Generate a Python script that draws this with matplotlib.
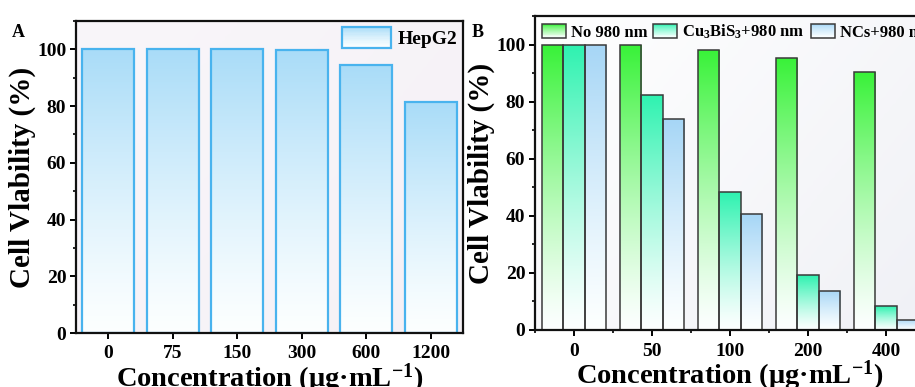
import numpy as np
import matplotlib
matplotlib.use("Agg")
import matplotlib.pyplot as plt
from matplotlib.colors import LinearSegmentedColormap, to_rgb
from matplotlib.patches import Rectangle, Patch
from matplotlib.legend_handler import HandlerBase
from matplotlib.ticker import MultipleLocator, FixedLocator

plt.rcParams['font.family'] = ['Liberation Serif', 'DejaVu Serif']
plt.rcParams['font.weight'] = 'bold'
plt.rcParams['mathtext.fontset'] = 'custom'
plt.rcParams['mathtext.rm'] = 'Liberation Serif:bold'
plt.rcParams['mathtext.bf'] = 'Liberation Serif:bold'
plt.rcParams['mathtext.it'] = 'Liberation Serif:bold'

# ---- data ----
a_labels = ["0", "75", "150", "300", "600", "1200"]
a_values = [100.0, 100.0, 100.0, 99.8, 94.4, 81.3]
a_series = "HepG2"

b_labels = ["0", "50", "100", "200", "400"]
b_no980 = [100.0, 100.0, 98.2, 95.4, 90.4]
b_cubis = [100.0, 82.4, 48.3, 19.2, 8.4]
b_ncs = [100.0, 73.9, 40.6, 13.8, 3.6]
b_series = ["No 980 nm", r"Cu$_{\mathbf{3}}$BiS$_{\mathbf{3}}$+980 nm", "NCs+980 nm"]

ylabel = "Cell Vlability (%)"
xlabel = r"Concentration (μg·mL$^{\mathbf{-1}}$)"

# ---- styles ----
c_blueA = "#a9dcf8"
e_blueA = "#49b3ee"
c_green = "#38f238"
c_cyan = "#2ef2b0"
c_blueB = "#a6d6f6"
e_dark = "#3a3a3a"


def make_cmap(color):
    c = np.array(to_rgb(color))
    t = np.linspace(0, 1, 256) ** 1.25
    cols = (1 - t[:, None]) * np.array([0.99, 1.0, 1.0]) + t[:, None] * c
    return LinearSegmentedColormap.from_list("g", cols)


def grad_bar(ax, x, h, w, color, edge, lw):
    rect = ax.bar(x, h, w, facecolor='none', edgecolor=edge, lw=lw, zorder=3)[0]
    grad = np.linspace(0, 1, 256).reshape(-1, 1)
    im = ax.imshow(grad, cmap=make_cmap(color), extent=[x - w / 2, x + w / 2, 0, h],
                   origin='lower', aspect='auto', zorder=2, interpolation='bilinear')
    im.set_clip_path(rect)


class GradHandler(HandlerBase):
    def __init__(self, color, edge, lw):
        super().__init__()
        self.cmap = make_cmap(color)
        self.edge = edge
        self.lw = lw

    def create_artists(self, legend, orig_handle, xdescent, ydescent, width, height, fontsize, trans):
        arts = []
        n = 16
        for i in range(n):
            r = Rectangle((-xdescent, -ydescent + i * height / n), width, height / n + 0.01,
                          fc=self.cmap((i + 0.5) / n), ec='none', transform=trans)
            arts.append(r)
        arts.append(Rectangle((-xdescent, -ydescent), width, height, fc='none',
                              ec=self.edge, lw=self.lw, transform=trans))
        return arts


def bg(ax, c0, c1):
    g = np.linspace(0, 1, 128)
    X, Y = np.meshgrid(g, g)
    t = 0.6 * X + 0.4 * (1 - Y)
    cm = LinearSegmentedColormap.from_list("bg", [c0, c1])
    ax.imshow(t, cmap=cm, extent=[0, 1, 0, 1], transform=ax.transAxes, aspect='auto',
              zorder=0, origin='lower', vmin=0, vmax=1)


fig = plt.figure(figsize=(9.15, 3.87), dpi=100)
W, H = 915, 387

# ---- panel A ----
axA = fig.add_axes([76 / W, (H - 333) / H, (463 - 76) / W, (333 - 21) / H])
bg(axA, "#f9f6fa", "#f5f1f6")
xa = np.arange(len(a_labels))
for x, v in zip(xa, a_values):
    grad_bar(axA, x, v, 0.8, c_blueA, e_blueA, 1.6)
axA.set_xlim(-0.5, len(a_labels) - 0.5)
axA.set_ylim(0, 110)
axA.set_xticks(xa)
axA.set_xticklabels(a_labels)
axA.set_yticks([0, 20, 40, 60, 80, 100])
axA.yaxis.set_minor_locator(MultipleLocator(10))
hA = Patch(label=a_series)
axA.legend([hA], [a_series], handler_map={hA: GradHandler(c_blueA, e_blueA, 1.6)},
           loc='upper right', frameon=False, handlelength=2.5, handleheight=1.3,
           borderaxespad=0.0, handletextpad=0.35, borderpad=0.3,
           prop={'weight': 'bold', 'size': 14})
fig.text(12 / W, 1 - 37 / H, "A", fontsize=13, fontweight='bold')

# ---- panel B ----
axB = fig.add_axes([535 / W, (H - 330) / H, 390 / W, (330 - 16) / H])
bg(axB, "#ffffff", "#f0f1f6")
xb = np.arange(len(b_labels))
bw = 0.27
for x, v in zip(xb, b_no980):
    grad_bar(axB, x - bw, v, bw, c_green, e_dark, 1.1)
for x, v in zip(xb, b_cubis):
    grad_bar(axB, x, v, bw, c_cyan, e_dark, 1.1)
for x, v in zip(xb, b_ncs):
    grad_bar(axB, x + bw, v, bw, c_blueB, e_dark, 1.1)
axB.set_xlim(-0.5, len(b_labels) - 0.5)
axB.set_ylim(0, 110)
axB.set_xticks(xb)
axB.set_xticklabels(b_labels)
axB.xaxis.set_minor_locator(FixedLocator(np.arange(-0.5, len(b_labels), 1.0)))
axB.set_yticks([0, 20, 40, 60, 80, 100])
axB.yaxis.set_minor_locator(MultipleLocator(10))
hb = [Patch(), Patch(), Patch()]
hmap = {hb[0]: GradHandler(c_green, e_dark, 1.1),
        hb[1]: GradHandler(c_cyan, e_dark, 1.1),
        hb[2]: GradHandler(c_blueB, e_dark, 1.1)}
axB.legend(hb, b_series, handler_map=hmap, loc='upper left', ncol=3, frameon=False,
           handlelength=1.45, handleheight=0.95, handletextpad=0.3, columnspacing=0.35,
           borderaxespad=0.1, borderpad=0.3, prop={'weight': 'bold', 'size': 12})
fig.text(472 / W, 1 - 37 / H, "B", fontsize=13, fontweight='bold')

for ax in (axA, axB):
    ax.set_ylabel(ylabel, fontsize=21, fontweight='bold', labelpad=1)
    ax.set_xlabel(xlabel, fontsize=20.5, fontweight='bold', labelpad=-1)
    for s in ax.spines.values():
        s.set_linewidth(1.6)
        s.set_color("#111111")
        s.set_zorder(5)
    ax.tick_params(axis='both', which='major', direction='out', length=4, width=1.4,
                   labelsize=14, pad=3)
    ax.tick_params(axis='both', which='minor', direction='out', length=2.5, width=1.2)
    ax.xaxis.set_tick_params(pad=5)
    for lab in ax.get_xticklabels() + ax.get_yticklabels():
        lab.set_fontweight('bold')

fig.savefig("out.png", dpi=100)
